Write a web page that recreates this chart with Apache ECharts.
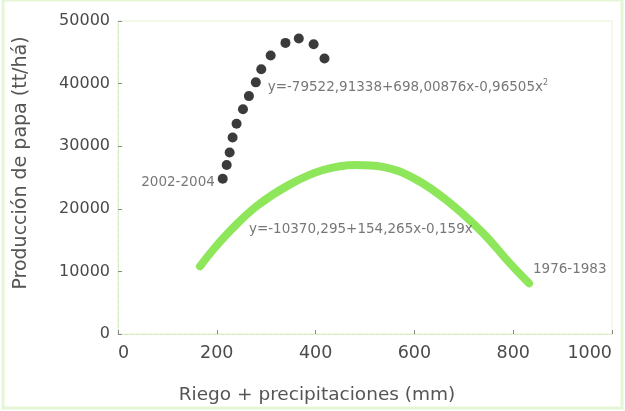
<!DOCTYPE html>
<html><head><meta charset="utf-8">
<script src="https://cdn.jsdelivr.net/npm/echarts@6/dist/echarts.min.js"></script>
<style>html,body{margin:0;padding:0;background:#fff}#c{width:625px;height:411px}</style>
</head><body><div id="c"></div>
<script>
// Black dots: 2002-2004
const dotX = [212, 220, 226, 232, 240, 253, 265, 279, 290, 309, 339, 366, 396, 418];
const dotY = [24800, 27000, 29000, 31400, 33600, 35900, 38000, 40200, 42300, 44500, 46500, 47200, 46300, 44000];
// Green fitted curve: 1976-1983
const curveX = [166, 193, 226, 280, 348, 415, 482, 536, 603, 671, 738, 792, 832];
const curveY = [10800, 13500, 16400, 20400, 23900, 26200, 27000, 26700, 24700, 21000, 16200, 11400, 8100];
const xTicks = [0, 200, 400, 600, 800, 1000];
const yTicks = [0, 10000, 20000, 30000, 40000, 50000];
const xTitle = 'Riego + precipitaciones (mm)';
const yTitle = 'Producción de papa (tt/há)';
const annotations = [
  {x: 196, y: 24200, text: '2002-2004', align: 'right'},
  {x: 840, y: 10300, text: '1976-1983', align: 'left'},
  {x: 303, y: 39300, text: 'y=-79522,91338+698,00876x-0,96505x{s|2}', align: 'left'},
  {x: 265, y: 16700, text: 'y=-10370,295+154,265x-0,159x', align: 'left'}
];

const chart = echarts.init(document.getElementById('c'), null, {renderer: 'canvas'});
const font = 'DejaVu Sans, sans-serif';
chart.setOption({
  backgroundColor: '#ffffff',
  animation: false,
  graphic: [
    {type: 'rect', shape: {x: 3, y: 0, width: 619, height: 408},
     style: {fill: 'none', stroke: '#e6f5d6', lineWidth: 3}, silent: true},
    {type: 'text', x: 317, y: 395,
     style: {text: xTitle, font: '18.5px ' + font, fill: '#555', align: 'center', verticalAlign: 'middle'}},
    {type: 'text', x: 21, y: 163, rotation: Math.PI / 2,
     style: {text: yTitle, font: '19px ' + font, fill: '#555', align: 'center', verticalAlign: 'middle'}}
  ],
  grid: {left: 118, right: 13, top: 21, bottom: 77, containLabel: false, outerBoundsMode: 'none',
         show: true, borderColor: '#e3f3d3', borderWidth: 1},
  xAxis: {
    type: 'value', min: xTicks[0], max: xTicks[xTicks.length - 1], interval: 200,
    axisLine: {show: true, lineStyle: {color: '#d5ecc0', type: 'dashed', width: 1}},
    axisTick: {show: true, inside: true, length: 4, lineStyle: {color: '#888'}},
    axisLabel: {fontFamily: font, fontSize: 17.5, color: '#4a4a4a', margin: 10,
                alignMinLabel: 'left', alignMaxLabel: 'right', formatter: v => String(v)},
    splitLine: {show: false}
  },
  yAxis: {
    type: 'value', min: yTicks[0], max: yTicks[yTicks.length - 1], interval: 10000,
    axisLine: {show: true, lineStyle: {color: '#d5ecc0', type: 'dashed', width: 1}},
    axisTick: {show: true, inside: true, length: 4, lineStyle: {color: '#888'}},
    axisLabel: {fontFamily: font, fontSize: 16, color: '#4a4a4a', margin: 8, formatter: v => String(v)},
    splitLine: {show: false}
  },
  series: [
    {
      type: 'line', smooth: 0.4, symbol: 'none',
      data: curveX.map((x, i) => [x, curveY[i]]),
      lineStyle: {color: '#8ee65a', width: 8, cap: 'round'},
      z: 2
    },
    {
      type: 'scatter', symbol: 'circle', symbolSize: 10,
      data: dotX.map((x, i) => [x, dotY[i]]),
      itemStyle: {color: '#0a0a0a'},
      z: 3
    },
    {
      type: 'scatter', symbolSize: 0, silent: true,
      data: annotations.map(a => ({
        value: [a.x, a.y],
        label: {
          show: true, position: 'inside', formatter: a.text, align: a.align,
          fontFamily: font, fontSize: 13.5, color: '#555',
          rich: {s: {fontFamily: font, fontSize: 8, verticalAlign: 'top', padding: [0, 0, 10, 0], color: '#555'}}
        }
      })),
      z: 4
    }
  ]
});
</script></body></html>
